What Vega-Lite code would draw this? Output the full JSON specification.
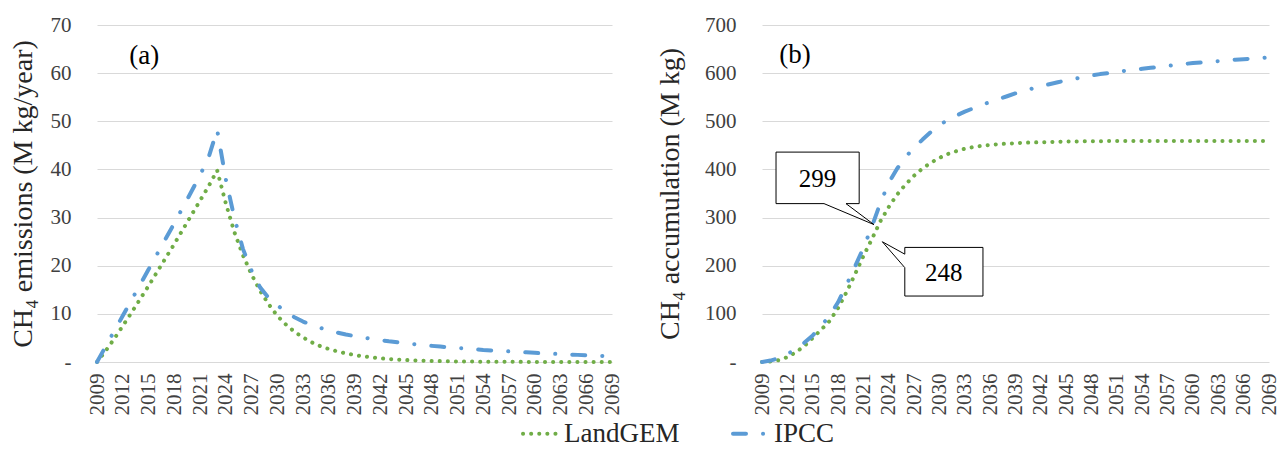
{
  "$schema": "https://vega.github.io/schema/vega-lite/v6.json",
  "background": "white",
  "padding": {"left": 9, "top": 14, "right": 8, "bottom": 0},
  "spacing": 34,
  "config": {
    "font": "Liberation Serif",
    "view": {"stroke": null},
    "axis": {
      "labelFont": "Liberation Serif",
      "titleFont": "Liberation Serif",
      "labelColor": "#404040",
      "titleColor": "#262626",
      "titleFontWeight": "normal",
      "domain": false,
      "ticks": false,
      "gridColor": "#D9D9D9",
      "gridWidth": 1
    },
    "axisX": {"grid": false, "labelAngle": 270, "labelFontSize": 21, "labelPadding": 11, "labelOverlap": false, "labelFlush": false},
    "axisY": {"grid": true, "labelFontSize": 21, "titleFontSize": 28, "labelPadding": 26, "titlePadding": 6}
  },
  "datasets": {
    "emis": [
      {"year": 2009, "LandGEM": 0, "IPCC": 0},
      {"year": 2010, "LandGEM": 2.3, "IPCC": 3.2},
      {"year": 2011, "LandGEM": 4.8, "IPCC": 6.4},
      {"year": 2012, "LandGEM": 7.5, "IPCC": 9.6},
      {"year": 2013, "LandGEM": 10.2, "IPCC": 12.8},
      {"year": 2014, "LandGEM": 13.0, "IPCC": 16.0},
      {"year": 2015, "LandGEM": 15.8, "IPCC": 19.2},
      {"year": 2016, "LandGEM": 18.7, "IPCC": 22.4},
      {"year": 2017, "LandGEM": 21.6, "IPCC": 25.6},
      {"year": 2018, "LandGEM": 24.5, "IPCC": 28.8},
      {"year": 2019, "LandGEM": 27.5, "IPCC": 32.1},
      {"year": 2020, "LandGEM": 30.5, "IPCC": 35.4},
      {"year": 2021, "LandGEM": 33.5, "IPCC": 38.8},
      {"year": 2022, "LandGEM": 36.5, "IPCC": 42.5},
      {"year": 2023, "LandGEM": 39.8, "IPCC": 48.2},
      {"year": 2024, "LandGEM": 33.0, "IPCC": 38.0},
      {"year": 2025, "LandGEM": 27.0, "IPCC": 30.0},
      {"year": 2026, "LandGEM": 22.2, "IPCC": 23.5},
      {"year": 2027, "LandGEM": 18.2, "IPCC": 19.0},
      {"year": 2028, "LandGEM": 14.8, "IPCC": 15.5},
      {"year": 2029, "LandGEM": 12.0, "IPCC": 13.3},
      {"year": 2030, "LandGEM": 9.6, "IPCC": 11.8},
      {"year": 2031, "LandGEM": 7.8, "IPCC": 10.4},
      {"year": 2032, "LandGEM": 6.3, "IPCC": 9.3},
      {"year": 2033, "LandGEM": 5.1, "IPCC": 8.4},
      {"year": 2034, "LandGEM": 4.1, "IPCC": 7.7},
      {"year": 2035, "LandGEM": 3.3, "IPCC": 7.1},
      {"year": 2036, "LandGEM": 2.7, "IPCC": 6.6},
      {"year": 2037, "LandGEM": 2.2, "IPCC": 6.1},
      {"year": 2038, "LandGEM": 1.8, "IPCC": 5.7},
      {"year": 2039, "LandGEM": 1.45, "IPCC": 5.4},
      {"year": 2040, "LandGEM": 1.17, "IPCC": 5.1},
      {"year": 2041, "LandGEM": 0.95, "IPCC": 4.8},
      {"year": 2042, "LandGEM": 0.77, "IPCC": 4.55},
      {"year": 2043, "LandGEM": 0.62, "IPCC": 4.3},
      {"year": 2044, "LandGEM": 0.5, "IPCC": 4.1},
      {"year": 2045, "LandGEM": 0.41, "IPCC": 3.9},
      {"year": 2046, "LandGEM": 0.33, "IPCC": 3.7},
      {"year": 2047, "LandGEM": 0.27, "IPCC": 3.5},
      {"year": 2048, "LandGEM": 0.22, "IPCC": 3.35},
      {"year": 2049, "LandGEM": 0.18, "IPCC": 3.2},
      {"year": 2050, "LandGEM": 0.14, "IPCC": 3.05},
      {"year": 2051, "LandGEM": 0.12, "IPCC": 2.9},
      {"year": 2052, "LandGEM": 0.09, "IPCC": 2.8},
      {"year": 2053, "LandGEM": 0.08, "IPCC": 2.65},
      {"year": 2054, "LandGEM": 0.06, "IPCC": 2.5},
      {"year": 2055, "LandGEM": 0.05, "IPCC": 2.4},
      {"year": 2056, "LandGEM": 0.04, "IPCC": 2.3},
      {"year": 2057, "LandGEM": 0.03, "IPCC": 2.2},
      {"year": 2058, "LandGEM": 0.03, "IPCC": 2.1},
      {"year": 2059, "LandGEM": 0.02, "IPCC": 2.0},
      {"year": 2060, "LandGEM": 0.02, "IPCC": 1.9},
      {"year": 2061, "LandGEM": 0.01, "IPCC": 1.8},
      {"year": 2062, "LandGEM": 0.01, "IPCC": 1.72},
      {"year": 2063, "LandGEM": 0.01, "IPCC": 1.64},
      {"year": 2064, "LandGEM": 0.01, "IPCC": 1.56},
      {"year": 2065, "LandGEM": 0.01, "IPCC": 1.48},
      {"year": 2066, "LandGEM": 0, "IPCC": 1.4},
      {"year": 2067, "LandGEM": 0, "IPCC": 1.33},
      {"year": 2068, "LandGEM": 0, "IPCC": 1.26},
      {"year": 2069, "LandGEM": 0, "IPCC": 1.2}
    ],
    "accum": [
      {"year": 2009, "LandGEM": 0, "IPCC": 0},
      {"year": 2010, "LandGEM": 1, "IPCC": 3},
      {"year": 2011, "LandGEM": 4, "IPCC": 8},
      {"year": 2012, "LandGEM": 10, "IPCC": 16},
      {"year": 2013, "LandGEM": 20, "IPCC": 27},
      {"year": 2014, "LandGEM": 33, "IPCC": 40},
      {"year": 2015, "LandGEM": 50, "IPCC": 55},
      {"year": 2016, "LandGEM": 67, "IPCC": 75},
      {"year": 2017, "LandGEM": 85, "IPCC": 96},
      {"year": 2018, "LandGEM": 112, "IPCC": 124},
      {"year": 2019, "LandGEM": 145, "IPCC": 160},
      {"year": 2020, "LandGEM": 182, "IPCC": 198},
      {"year": 2021, "LandGEM": 220, "IPCC": 237},
      {"year": 2022, "LandGEM": 255, "IPCC": 281},
      {"year": 2023, "LandGEM": 292, "IPCC": 330},
      {"year": 2024, "LandGEM": 322, "IPCC": 372},
      {"year": 2025, "LandGEM": 348, "IPCC": 402},
      {"year": 2026, "LandGEM": 369, "IPCC": 426},
      {"year": 2027, "LandGEM": 387, "IPCC": 445},
      {"year": 2028, "LandGEM": 402, "IPCC": 462},
      {"year": 2029, "LandGEM": 414, "IPCC": 478},
      {"year": 2030, "LandGEM": 424, "IPCC": 492},
      {"year": 2031, "LandGEM": 432, "IPCC": 503},
      {"year": 2032, "LandGEM": 438, "IPCC": 512},
      {"year": 2033, "LandGEM": 443, "IPCC": 520},
      {"year": 2034, "LandGEM": 446.5, "IPCC": 527},
      {"year": 2035, "LandGEM": 449, "IPCC": 534},
      {"year": 2036, "LandGEM": 451, "IPCC": 540},
      {"year": 2037, "LandGEM": 452.5, "IPCC": 546},
      {"year": 2038, "LandGEM": 453.5, "IPCC": 552},
      {"year": 2039, "LandGEM": 454.5, "IPCC": 558},
      {"year": 2040, "LandGEM": 455.5, "IPCC": 563},
      {"year": 2041, "LandGEM": 456, "IPCC": 568},
      {"year": 2042, "LandGEM": 456.5, "IPCC": 573},
      {"year": 2043, "LandGEM": 457, "IPCC": 577},
      {"year": 2044, "LandGEM": 457.5, "IPCC": 581},
      {"year": 2045, "LandGEM": 458, "IPCC": 585},
      {"year": 2046, "LandGEM": 458, "IPCC": 588},
      {"year": 2047, "LandGEM": 458.5, "IPCC": 592},
      {"year": 2048, "LandGEM": 458.5, "IPCC": 595},
      {"year": 2049, "LandGEM": 458.5, "IPCC": 598},
      {"year": 2050, "LandGEM": 459, "IPCC": 600},
      {"year": 2051, "LandGEM": 459, "IPCC": 603},
      {"year": 2052, "LandGEM": 459, "IPCC": 605},
      {"year": 2053, "LandGEM": 459, "IPCC": 607},
      {"year": 2054, "LandGEM": 459, "IPCC": 609},
      {"year": 2055, "LandGEM": 459, "IPCC": 611},
      {"year": 2056, "LandGEM": 459, "IPCC": 613},
      {"year": 2057, "LandGEM": 459, "IPCC": 615},
      {"year": 2058, "LandGEM": 459, "IPCC": 617},
      {"year": 2059, "LandGEM": 459, "IPCC": 619},
      {"year": 2060, "LandGEM": 459, "IPCC": 621},
      {"year": 2061, "LandGEM": 459, "IPCC": 622},
      {"year": 2062, "LandGEM": 459, "IPCC": 624},
      {"year": 2063, "LandGEM": 459, "IPCC": 625},
      {"year": 2064, "LandGEM": 459, "IPCC": 627},
      {"year": 2065, "LandGEM": 459, "IPCC": 628},
      {"year": 2066, "LandGEM": 459, "IPCC": 629},
      {"year": 2067, "LandGEM": 459, "IPCC": 630},
      {"year": 2068, "LandGEM": 459, "IPCC": 631},
      {"year": 2069, "LandGEM": 459, "IPCC": 633}
    ]
  },
  "hconcat": [
    {
      "width": 515,
      "height": 337,
      "layer": [
        {
          "data": {"name": "emis"},
          "transform": [{"fold": ["LandGEM", "IPCC"], "as": ["series", "v"]}],
          "mark": {"type": "line", "strokeWidth": 4, "strokeCap": "round", "strokeJoin": "round"},
          "encoding": {
            "x": {"field": "year", "type": "quantitative", "scale": {"domain": [2009, 2069], "nice": false, "zero": false},
                  "axis": {"title": null, "tickCount": 60, "labelOverlap": false, "labelFlush": false, "values": [2009, 2012, 2015, 2018, 2021, 2024, 2027, 2030, 2033, 2036, 2039, 2042, 2045, 2048, 2051, 2054, 2057, 2060, 2063, 2066, 2069], "format": "d"}},
            "y": {"field": "v", "type": "quantitative", "scale": {"domain": [0, 70], "nice": false},
                  "axis": {"title": "CH₄ emissions (M kg/year)", "titlePadding": 13, "tickCount": 20, "values": [0, 10, 20, 30, 40, 50, 60, 70], "labelExpr": "datum.value == 0 ? '-  ' : datum.label"}},
            "color": {"field": "series", "type": "nominal", "scale": {"domain": ["LandGEM", "IPCC"], "range": ["#70AD47", "#5B9BD5"]},
                      "legend": {"orient": "none", "legendX": 424, "legendY": 389, "direction": "horizontal", "title": null, "labelFontSize": 27, "labelFont": "Liberation Serif", "labelColor": "#262626", "symbolType": "stroke", "symbolSize": 1225, "symbolStrokeWidth": 4, "columnPadding": 45, "labelOffset": 4, "symbolOffset": 0,
                                 "encode": {"symbols": {"update": {"strokeCap": {"value": "round"}}}}}},
            "strokeDash": {"field": "series", "type": "nominal", "scale": {"domain": ["LandGEM", "IPCC"], "range": [[0.1, 8], [13, 17, 0.1, 17]]},
                      "legend": {"orient": "none", "legendX": 424, "legendY": 389, "direction": "horizontal", "title": null, "labelFontSize": 27, "labelFont": "Liberation Serif", "labelColor": "#262626", "symbolType": "stroke", "symbolSize": 1225, "symbolStrokeWidth": 4, "columnPadding": 45, "labelOffset": 4, "symbolOffset": 0,
                                 "encode": {"symbols": {"update": {"strokeCap": {"value": "round"}}}}}}
          }
        },
        {
          "data": {"values": [{}]},
          "mark": {"type": "text", "fontSize": 27, "font": "Liberation Serif", "color": "#000000", "align": "center", "baseline": "middle"},
          "encoding": {"x": {"datum": 2014.5, "type": "quantitative"}, "y": {"datum": 63.6, "type": "quantitative"}, "text": {"value": "(a)"}}
        }
      ]
    },
    {
      "width": 507,
      "height": 337,
      "layer": [
        {
          "data": {"name": "accum"},
          "transform": [{"fold": ["LandGEM", "IPCC"], "as": ["series", "v"]}],
          "mark": {"type": "line", "strokeWidth": 4, "strokeCap": "round", "strokeJoin": "round"},
          "encoding": {
            "x": {"field": "year", "type": "quantitative", "scale": {"domain": [2009, 2069], "nice": false, "zero": false},
                  "axis": {"title": null, "tickCount": 60, "labelOverlap": false, "labelFlush": false, "values": [2009, 2012, 2015, 2018, 2021, 2024, 2027, 2030, 2033, 2036, 2039, 2042, 2045, 2048, 2051, 2054, 2057, 2060, 2063, 2066, 2069], "format": "d"}},
            "y": {"field": "v", "type": "quantitative", "scale": {"domain": [0, 700], "nice": false},
                  "axis": {"title": "CH₄ accumulation (M kg)", "titlePadding": 20, "tickCount": 20, "values": [0, 100, 200, 300, 400, 500, 600, 700], "labelExpr": "datum.value == 0 ? '-  ' : datum.label"}},
            "color": {"field": "series", "type": "nominal", "scale": {"domain": ["LandGEM", "IPCC"], "range": ["#70AD47", "#5B9BD5"]},
                      "legend": {"orient": "none", "legendX": 424, "legendY": 389, "direction": "horizontal", "title": null, "labelFontSize": 27, "labelFont": "Liberation Serif", "labelColor": "#262626", "symbolType": "stroke", "symbolSize": 1225, "symbolStrokeWidth": 4, "columnPadding": 45, "labelOffset": 4, "symbolOffset": 0,
                                 "encode": {"symbols": {"update": {"strokeCap": {"value": "round"}}}}}},
            "strokeDash": {"field": "series", "type": "nominal", "scale": {"domain": ["LandGEM", "IPCC"], "range": [[0.1, 8], [13, 17, 0.1, 17]]},
                      "legend": {"orient": "none", "legendX": 424, "legendY": 389, "direction": "horizontal", "title": null, "labelFontSize": 27, "labelFont": "Liberation Serif", "labelColor": "#262626", "symbolType": "stroke", "symbolSize": 1225, "symbolStrokeWidth": 4, "columnPadding": 45, "labelOffset": 4, "symbolOffset": 0,
                                 "encode": {"symbols": {"update": {"strokeCap": {"value": "round"}}}}}}
          }
        },
        {
          "data": {"values": [{}]},
          "mark": {"type": "text", "fontSize": 27, "font": "Liberation Serif", "color": "#000000", "align": "center", "baseline": "middle"},
          "encoding": {"x": {"datum": 2012.9, "type": "quantitative"}, "y": {"datum": 637, "type": "quantitative"}, "text": {"value": "(b)"}}
        },
        {
          "data": {"values": [{}]},
          "mark": {"type": "rect", "fill": "white", "stroke": "#000000", "strokeWidth": 1},
          "encoding": {"x": {"datum": 2010.66, "type": "quantitative"}, "x2": {"datum": 2020.5}, "y": {"datum": 436, "type": "quantitative"}, "y2": {"datum": 329}}
        },
        {
          "data": {"values": [{}]},
          "mark": {"type": "rule", "color": "white", "strokeWidth": 2.5},
          "encoding": {"x": {"datum": 2016.34, "type": "quantitative"}, "x2": {"datum": 2018.94}, "y": {"datum": 329, "type": "quantitative"}, "y2": {"datum": 329}}
        },
        {
          "data": {"values": [{}]},
          "mark": {"type": "rule", "color": "#000000", "strokeWidth": 1},
          "encoding": {"x": {"datum": 2016.34, "type": "quantitative"}, "x2": {"datum": 2022.25}, "y": {"datum": 329, "type": "quantitative"}, "y2": {"datum": 285.4}}
        },
        {
          "data": {"values": [{}]},
          "mark": {"type": "rule", "color": "#000000", "strokeWidth": 1},
          "encoding": {"x": {"datum": 2018.94, "type": "quantitative"}, "x2": {"datum": 2022.25}, "y": {"datum": 329, "type": "quantitative"}, "y2": {"datum": 285.4}}
        },
        {
          "data": {"values": [{}]},
          "mark": {"type": "text", "fontSize": 25, "font": "Liberation Serif", "color": "#000000", "align": "center", "baseline": "middle"},
          "encoding": {"x": {"datum": 2015.58, "type": "quantitative"}, "y": {"datum": 381, "type": "quantitative"}, "text": {"value": "299"}}
        },
        {
          "data": {"values": [{}]},
          "mark": {"type": "rect", "fill": "white", "stroke": "#000000", "strokeWidth": 1},
          "encoding": {"x": {"datum": 2025.9, "type": "quantitative"}, "x2": {"datum": 2035.15}, "y": {"datum": 238, "type": "quantitative"}, "y2": {"datum": 137}}
        },
        {
          "data": {"values": [{}]},
          "mark": {"type": "rule", "color": "white", "strokeWidth": 2.5},
          "encoding": {"x": {"datum": 2025.9, "type": "quantitative"}, "x2": {"datum": 2025.9}, "y": {"datum": 224, "type": "quantitative"}, "y2": {"datum": 196}}
        },
        {
          "data": {"values": [{}]},
          "mark": {"type": "rule", "color": "#000000", "strokeWidth": 1},
          "encoding": {"x": {"datum": 2025.9, "type": "quantitative"}, "x2": {"datum": 2023.24}, "y": {"datum": 224, "type": "quantitative"}, "y2": {"datum": 249.8}}
        },
        {
          "data": {"values": [{}]},
          "mark": {"type": "rule", "color": "#000000", "strokeWidth": 1},
          "encoding": {"x": {"datum": 2025.9, "type": "quantitative"}, "x2": {"datum": 2023.24}, "y": {"datum": 196, "type": "quantitative"}, "y2": {"datum": 249.8}}
        },
        {
          "data": {"values": [{}]},
          "mark": {"type": "text", "fontSize": 25, "font": "Liberation Serif", "color": "#000000", "align": "center", "baseline": "middle"},
          "encoding": {"x": {"datum": 2030.5, "type": "quantitative"}, "y": {"datum": 185, "type": "quantitative"}, "text": {"value": "248"}}
        }
      ]
    }
  ]
}
